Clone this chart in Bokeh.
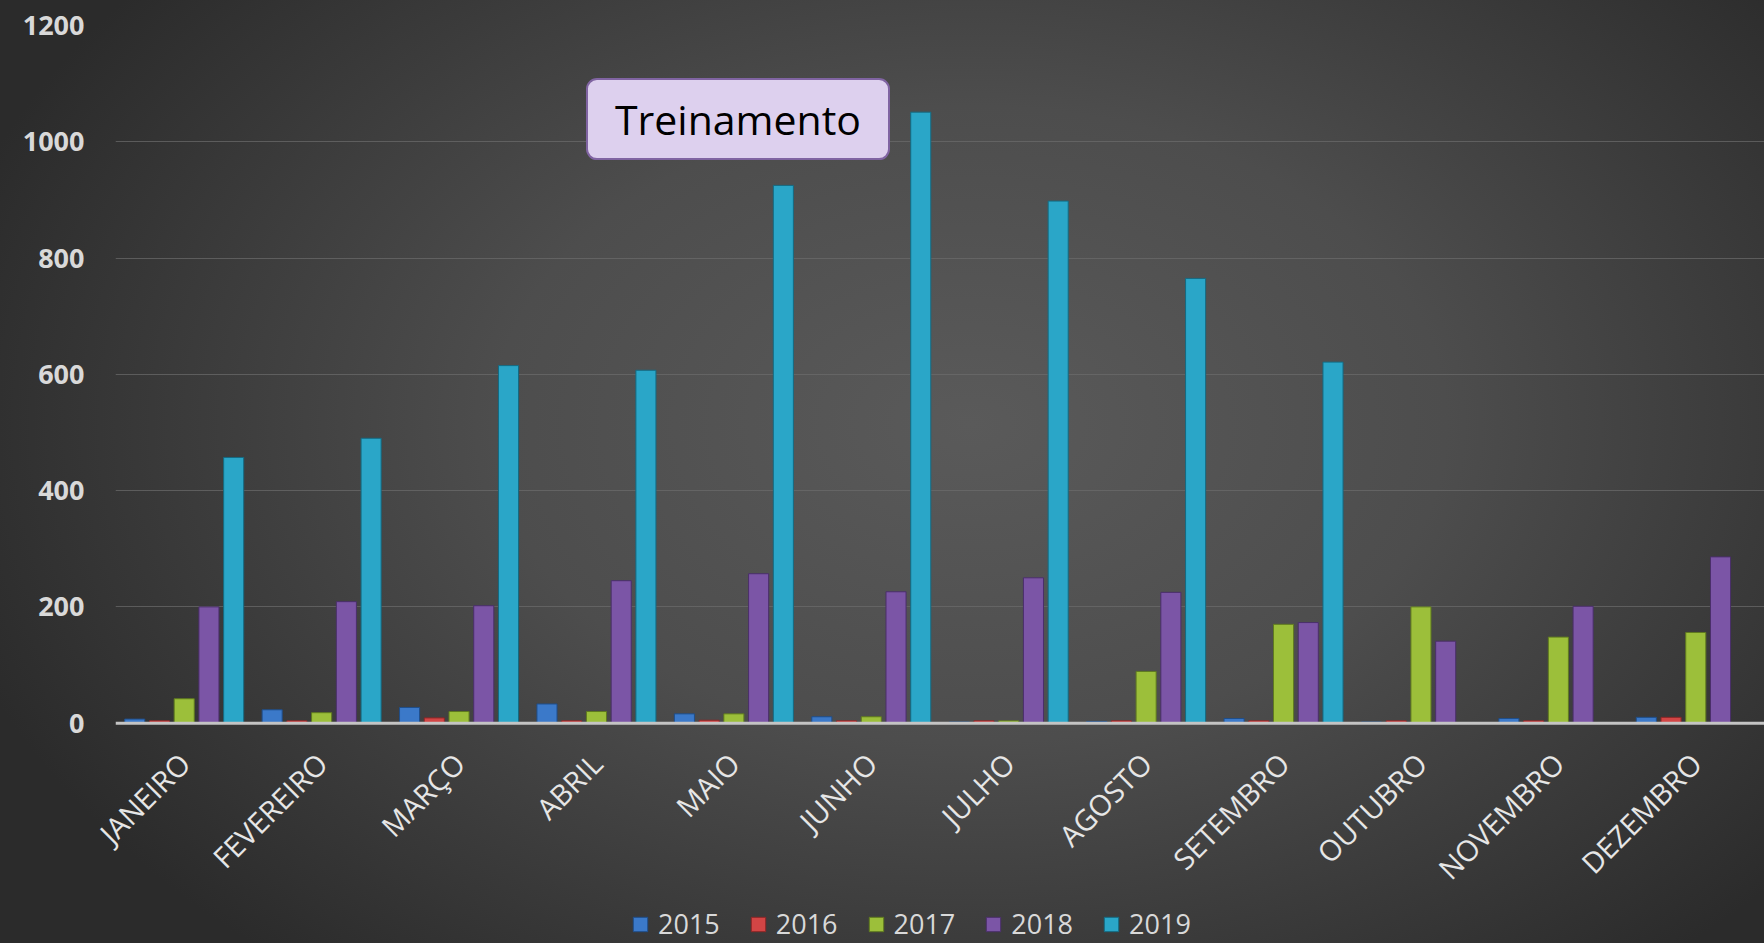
import math
import numpy as np
from bokeh.plotting import figure
from bokeh.models import (ColumnDataSource, FactorRange, Range1d, Legend, LegendItem,
                          Label, FixedTicker, Span)
from bokeh.transform import dodge
from bokeh.core.properties import value
from bokeh.embed import file_html
from bokeh.resources import INLINE

months = ["JANEIRO", "FEVEREIRO", "MARÇO", "ABRIL", "MAIO", "JUNHO",
          "JULHO", "AGOSTO", "SETEMBRO", "OUTUBRO", "NOVEMBRO", "DEZEMBRO"]
years = ["2015", "2016", "2017", "2018", "2019"]
v2015 = [7, 23, 27, 33, 16, 11, 2, 3, 8, 2, 8, 10]
v2016 = [4, 4, 9, 4, 5, 4, 4, 4, 4, 4, 4, 10]
v2017 = [42, 18, 20, 20, 16, 11, 4, 89, 170, 200, 148, 156]
v2018 = [200, 209, 202, 245, 257, 226, 250, 225, 173, 141, 201, 286]
v2019 = [457, 490, 615, 607, 925, 1051, 898, 765, 621, None, None, None]
y_ticks = [0, 200, 400, 600, 800, 1000, 1200]
title_text = "Treinamento"

series = {"2015": v2015, "2016": v2016, "2017": v2017, "2018": v2018, "2019": v2019}
colors = {"2015": "#3b79c9", "2016": "#d24545", "2017": "#9cbf3a",
          "2018": "#7b55a6", "2019": "#2aa6c8"}
edges = {"2015": "#1f4e8a", "2016": "#8e2626", "2017": "#5f7a1f",
         "2018": "#4a2f6a", "2019": "#146a82"}

data = {"month": months}
for y in years:
    data[y] = np.array([np.nan if v is None else v for v in series[y]], dtype=float)
source = ColumnDataSource(data)

# the frame reaches the bottom of the page so the category labels and the
# legend can sit inside it, below the zero line
p = figure(x_range=FactorRange(*months, range_padding=0),
           y_range=Range1d(-379, y_ticks[-1]),
           width=1764, height=943, output_backend="svg", toolbar_location=None,
           x_axis_location=None,
           min_border_left=115, min_border_right=0, min_border_top=25,
           min_border_bottom=0)
p.styles = {"background": "radial-gradient(ellipse 60% 75% at 55% 45%, #5a5a5a 0%, #4d4d4d 45%, #2b2b2b 100%)"}
p.background_fill_color = None
p.border_fill_color = None
p.outline_line_color = None

offsets = [-0.36, -0.18, 0.0, 0.18, 0.36]
renderers = []
for y, off in zip(years, offsets):
    r = p.vbar(x=dodge("month", off, range=p.x_range), top=y, width=0.146, bottom=0,
               source=source, fill_color=colors[y], line_color=edges[y], line_width=1)
    renderers.append(r)

p.xgrid.grid_line_color = None
p.ygrid.grid_line_color = "#6c6c6c"
p.ygrid.grid_line_alpha = 0.7
p.ygrid.ticker = FixedTicker(ticks=y_ticks[1:])

p.yaxis.ticker = FixedTicker(ticks=y_ticks)
p.yaxis.axis_line_color = None
p.yaxis.major_tick_line_color = None
p.yaxis.minor_tick_line_color = None
p.yaxis.major_tick_out = 0
p.yaxis.major_label_standoff = 31
p.yaxis.major_label_text_font = "Open Sans"
p.yaxis.major_label_text_font_style = "bold"
p.yaxis.major_label_text_font_size = "27px"
p.yaxis.major_label_text_color = "#d9d9d9"

# zero line (category axis line)
p.add_layout(Span(location=0, dimension="width", line_color="#c4c4c4", line_width=3))

# rotated category labels
label_y = -60
p.text(x="month", y=label_y, text="month", source=source, angle=math.pi / 4,
       text_align="right", text_baseline="middle", text_font=value("Open Sans"),
       text_font_size="29px", text_color="#e6e6e6", level="overlay")

legend = Legend(items=[LegendItem(label=y, renderers=[r]) for y, r in zip(years, renderers)],
                orientation="horizontal", location=(516, 1),
                glyph_width=18, glyph_height=18, label_standoff=9, spacing=29,
                padding=0, margin=0, border_line_color=None, background_fill_alpha=0,
                label_text_font="Open Sans", label_text_font_size="27px",
                label_text_color="#d9d9d9")
p.add_layout(legend)

label = Label(x=4.53, y=1039, text=title_text, text_align="center", text_baseline="middle",
              text_font="Open Sans", text_font_size="41px", text_color="#000000",
              background_fill_color="#ddd0ee", border_line_color="#8064a2",
              border_line_width=2, padding=(28, 12), border_radius=10)
p.add_layout(label)

open("out.html", "w").write(file_html(p, INLINE))
